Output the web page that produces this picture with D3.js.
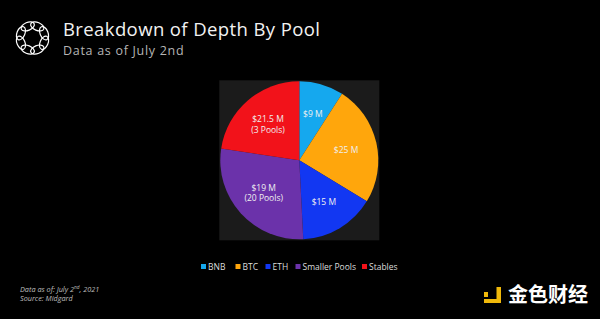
<!DOCTYPE html>
<html>
<head>
<meta charset="utf-8">
<script src="https://cdn.jsdelivr.net/npm/d3@7"></script>
<style>
  html, body { margin: 0; padding: 0; background: #000; }
  svg { display: block; }
</style>
</head>
<body>
<script>
var width = 600;
var height = 319;

// pools, in drawing order (clockwise from 12 o'clock)
var pools = ["BNB", "BTC", "ETH", "Smaller Pools", "Stables"];
// slice share (percent of the circle)
var share = [9.1, 24.6, 15.5, 28.2, 22.6];
// text written on each slice
var depthLabel = ["$9 M", "$25 M", "$15 M", "$19 M", "$21.5 M"];
var poolCount = ["", "", "", "(20 Pools)", "(3 Pools)"];
var colors = ["#15a8ee", "#ffa60c", "#1237f2", "#6b32aa", "#f2121a"];

var svg = d3.select("body")
  .append("svg")
  .attr("width", width)
  .attr("height", height);

svg.append("rect")
  .attr("width", width)
  .attr("height", height)
  .attr("fill", "#000");

// logo: ring of linked ovals
var logo = svg.append("g").attr("transform", "translate(32.5,38)");
d3.range(8).forEach(function (i) {
  var a = i * 45 + 22.5;
  logo.append("ellipse")
    .attr("rx", 4)
    .attr("ry", 7)
    .attr("transform", "rotate(" + a + ") translate(12.5,0)")
    .attr("fill", "none")
    .attr("stroke", "#fff")
    .attr("stroke-width", 1.2);
});

svg.append("text")
  .attr("x", 63)
  .attr("y", 36)
  .attr("fill", "#f2f2f2")
  .attr("font-family", "Open Sans, sans-serif")
  .attr("font-size", 18.5)
  .attr("letter-spacing", 0.4)
  .text("Breakdown of Depth By Pool");

svg.append("text")
  .attr("x", 63)
  .attr("y", 54.5)
  .attr("fill", "#b5b5b5")
  .attr("font-family", "Open Sans, sans-serif")
  .attr("font-size", 12.5)
  .attr("letter-spacing", 0.7)
  .text("Data as of July 2nd");

// pie
var cx = 299.3, cy = 160.3, radius = 79;

svg.append("rect")
  .attr("x", cx - radius - 1)
  .attr("y", cy - radius - 1)
  .attr("width", radius * 2 + 2)
  .attr("height", radius * 2 + 2)
  .attr("fill", "#1b1b1b");

var pie = d3.pie().sort(null).value(function (d) { return d; });
var arcs = pie(share);

var arc = d3.arc().innerRadius(0).outerRadius(radius);
var labelArc = d3.arc().innerRadius(48).outerRadius(48);

var g = svg.append("g").attr("transform", "translate(" + cx + "," + cy + ")");

g.selectAll("path")
  .data(arcs)
  .enter()
  .append("path")
  .attr("d", arc)
  .attr("fill", function (d, i) { return colors[i]; });

var labels = g.selectAll("text.lbl")
  .data(arcs)
  .enter()
  .append("text")
  .attr("class", "lbl")
  .attr("transform", function (d) {
    return "translate(" + labelArc.centroid(d) + ")";
  })
  .attr("text-anchor", "middle")
  .attr("fill", "#f0f0f0")
  .attr("font-family", "Open Sans, sans-serif")
  .attr("font-size", 8.5);

labels.append("tspan")
  .attr("x", 0)
  .attr("dy", function (d, i) { return poolCount[i] ? "-0.2em" : "0.35em"; })
  .text(function (d, i) { return depthLabel[i]; });

labels.append("tspan")
  .attr("x", 0)
  .attr("dy", "1.25em")
  .text(function (d, i) { return poolCount[i]; });

// legend
var legend = svg.append("g").attr("transform", "translate(0,267)");
var legendX = [201, 235.5, 265.5, 295.5, 362];
var item = legend.selectAll("g")
  .data(pools)
  .enter()
  .append("g")
  .attr("transform", function (d, i) { return "translate(" + legendX[i] + ",0)"; });

item.append("rect")
  .attr("x", 0)
  .attr("y", -3)
  .attr("width", 5)
  .attr("height", 5)
  .attr("fill", function (d, i) { return colors[i]; });

item.append("text")
  .attr("x", 7)
  .attr("y", 2.8)
  .attr("fill", "#ddd")
  .attr("font-family", "Open Sans, sans-serif")
  .attr("font-size", 8.5)
  .text(function (d) { return d; });

// footnote
var foot = svg.append("text")
  .attr("x", 20)
  .attr("y", 292)
  .attr("fill", "#bdbdbd")
  .attr("font-family", "Open Sans, sans-serif")
  .attr("font-style", "italic")
  .attr("font-size", 7.3);
foot.append("tspan").text("Data as of: July 2");
foot.append("tspan").attr("font-size", 4.8).attr("dy", -2.8).text("nd");
foot.append("tspan").attr("dy", 2.8).text(", 2021");

svg.append("text")
  .attr("x", 20)
  .attr("y", 300.5)
  .attr("fill", "#bdbdbd")
  .attr("font-family", "Open Sans, sans-serif")
  .attr("font-style", "italic")
  .attr("font-size", 7.3)
  .text("Source: Midgard");

// watermark
var wm = svg.append("g").attr("fill", "#f0b90b");
wm.append("rect").attr("x", 484).attr("y", 292).attr("width", 4).attr("height", 5);
wm.append("rect").attr("x", 496.5).attr("y", 287).attr("width", 4.5).attr("height", 16);
wm.append("rect").attr("x", 484).attr("y", 299).attr("width", 17).attr("height", 4);

svg.append("text")
  .attr("x", 508)
  .attr("y", 302)
  .attr("fill", "#fff")
  .attr("font-family", "Noto Sans CJK SC, sans-serif")
  .attr("font-weight", "bold")
  .attr("font-size", 20)
  .text("金色财经");
</script>
</body>
</html>
